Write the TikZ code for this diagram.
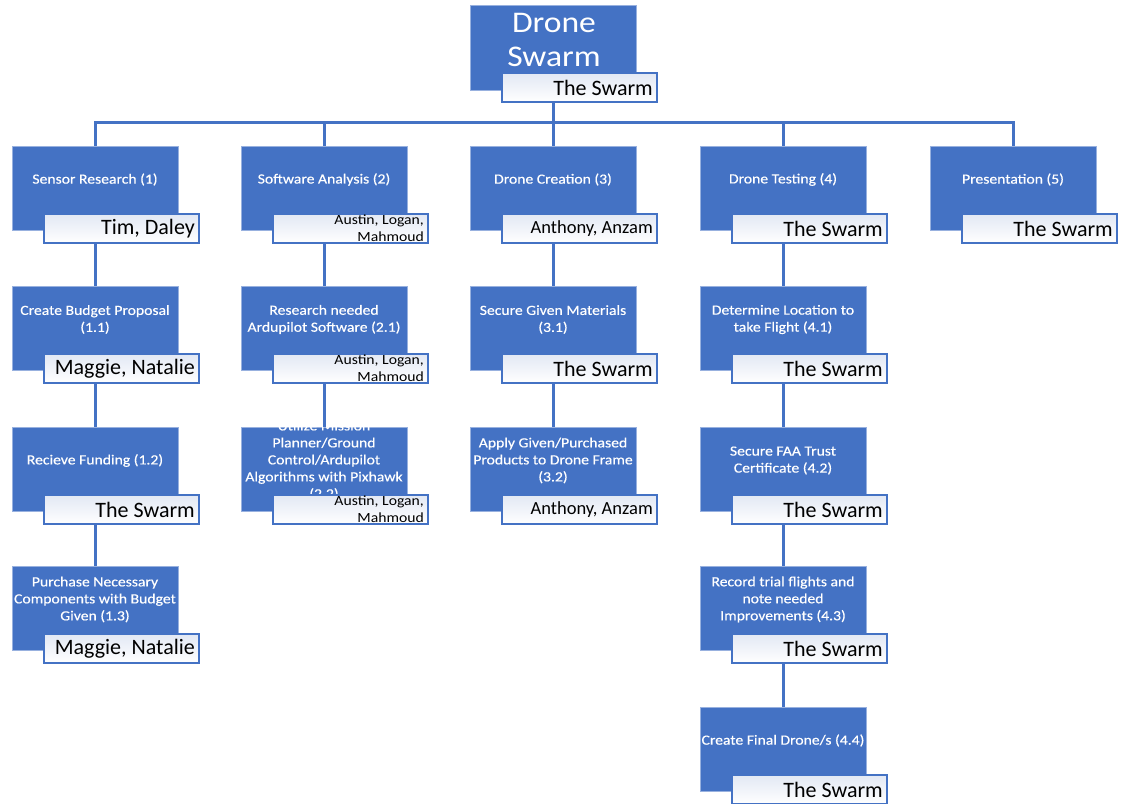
\documentclass[tikz,border=0pt]{standalone}
\usepackage{fontspec}
\setmainfont{Carlito}
\newfontfamily\boxfont[FakeStretch=1.12,FakeBold=0.4]{Carlito}
\newfontfamily\smallfont[FakeStretch=1.12]{Carlito}
\usetikzlibrary{calc}
\definecolor{ob}{HTML}{4472C4}
\definecolor{lb}{HTML}{E2E8F4}
\pgfdeclarelayer{bg}
\pgfsetlayers{bg,main}
\tikzset{
 bbox/.style={fill=ob, draw=ob!55!white, line width=0.8pt, minimum width=166pt, minimum height=84pt, anchor=north west, inner sep=0pt},
 lbox/.style={draw=ob, line width=2pt, top color=lb, bottom color=white, minimum width=155pt, minimum height=29pt, anchor=north west, inner sep=0pt},
 btext/.style={text=white, font=\boxfont\fontsize{14}{17}\selectfont, align=center, inner sep=0pt},
 ltext/.style={font=\fontsize{22}{24}\selectfont, anchor=east, inner sep=0pt},
 mtext/.style={font=\fontsize{18.5}{20}\selectfont, anchor=east, inner sep=0pt},
 stext/.style={font=\smallfont\fontsize{14}{17}\selectfont, anchor=east, align=right, inner sep=0pt},
 conn/.style={draw=ob, line width=3pt},
}
\newcommand\wbs[6]{%
 \node[bbox] (#1) at (#2,#3) {};
 \begin{scope}
  \clip (#2,#3) rectangle ++(166,84);
  \node[btext] (#1-t) at ($(#2,#3)+(83,33.5)$) {#4};
 \end{scope}
 \node[lbox] (#1-l) at ($(#2,#3)+(31,67)$) {};
 \node[#6] (#1-n) at ($(#1-l.east)+(-5,0)$) {#5};
}
\begin{document}
\begin{tikzpicture}[x=1pt,y=-1pt]
\useasboundingbox (0,0) rectangle (1121,803);
% top
\node[bbox, minimum height=85pt] (top) at (470,5) {};
\node[btext, font=\smallfont\fontsize{30}{34}\selectfont] (top-t) at (554,40) {Drone\\Swarm};
\node[lbox] (top-l) at (501,72) {};
\node[ltext] (top-n) at ($(top-l.east)+(-5,0)$) {The Swarm};
% column 1
\wbs{c1}{12}{146}{Sensor Research (1)}{Tim, Daley}{ltext}
\wbs{c11}{12}{286}{Create Budget Proposal\\(1.1)}{Maggie, Natalie}{ltext}
\wbs{c12}{12}{427}{Recieve Funding (1.2)}{The Swarm}{ltext}
\wbs{c13}{12}{566}{Purchase Necessary\\Components with Budget\\Given (1.3)}{Maggie, Natalie}{ltext}
% column 2
\wbs{c2}{241}{146}{Software Analysis (2)}{Austin, Logan,\\Mahmoud}{stext}
\wbs{c21}{241}{286}{Research needed\\Ardupilot Software (2.1)}{Austin, Logan,\\Mahmoud}{stext}
\wbs{c22}{241}{427}{Utilize Mission\\Planner/Ground\\Control/Ardupilot\\Algorithms with Pixhawk\\(2.2)}{Austin, Logan,\\Mahmoud}{stext}
% column 3
\wbs{c3}{470}{146}{Drone Creation (3)}{Anthony, Anzam}{mtext}
\wbs{c31}{470}{286}{Secure Given Materials\\(3.1)}{The Swarm}{ltext}
\wbs{c32}{470}{427}{Apply Given/Purchased\\Products to Drone Frame\\(3.2)}{Anthony, Anzam}{mtext}
% column 4
\wbs{c4}{700}{146}{Drone Testing (4)}{The Swarm}{ltext}
\wbs{c41}{700}{286}{Determine Location to\\take Flight (4.1)}{The Swarm}{ltext}
\wbs{c42}{700}{427}{Secure FAA Trust\\Certificate (4.2)}{The Swarm}{ltext}
\wbs{c43}{700}{566}{Record trial flights and\\note needed\\Improvements (4.3)}{The Swarm}{ltext}
\wbs{c44}{700}{707}{Create Final Drone/s (4.4)}{The Swarm}{ltext}
% column 5
\wbs{c5}{930}{146}{Presentation (5)}{The Swarm}{ltext}
% connectors
\begin{pgfonlayer}{bg}
\coordinate (bus) at (0,122);
\draw[conn] (top.south) -- (top.south |- bus);
\draw[conn] (c1.north) -- (c1.north |- bus) -- (c5.north |- bus) -- (c5.north);
\foreach \c in {c2,c3,c4} \draw[conn] (\c.north |- bus) -- (\c.north);
\draw[conn] (c1.south) -- (c11.north);
\draw[conn] (c11.south) -- (c12.north);
\draw[conn] (c12.south) -- (c13.north);
\draw[conn] (c2.south) -- (c21.north);
\draw[conn] (c21.south) -- (c22.north);
\draw[conn] (c3.south) -- (c31.north);
\draw[conn] (c31.south) -- (c32.north);
\draw[conn] (c4.south) -- (c41.north);
\draw[conn] (c41.south) -- (c42.north);
\draw[conn] (c42.south) -- (c43.north);
\draw[conn] (c43.south) -- (c44.north);
\end{pgfonlayer}
\end{tikzpicture}
\end{document}
